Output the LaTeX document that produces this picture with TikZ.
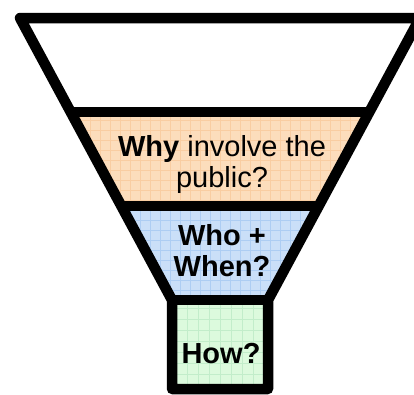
\documentclass[tikz,border=0pt]{standalone}
\usepackage{fontspec}
\setmainfont{Liberation Sans}
\usetikzlibrary{positioning}

\definecolor{whyfill}{HTML}{FCDDBC}
\definecolor{whygrid}{HTML}{F9CDA2}
\definecolor{whofill}{HTML}{CADFF8}
\definecolor{whogrid}{HTML}{ADCDF3}
\definecolor{howfill}{HTML}{DCFADD}
\definecolor{howgrid}{HTML}{C2EDCA}

\begin{document}
\begin{tikzpicture}[x=1pt, y=-1pt,
    outline/.style={draw=black, line width=10.5pt, line join=round},
    texture/.style={line width=0.6pt, step=10pt},
    label/.style={font=\fontsize{29}{31}\selectfont, align=center, inner sep=0pt}]
            \clip (0,0) rectangle (414,394);
            \fill[white] (0,0) rectangle (414,394);

            % bands
            \fill[whyfill] (70.7,112) -- (369.3,112) -- (319,206) -- (121,206) -- cycle;
            \fill[whofill] (121,206) -- (319,206) -- (268,300) -- (172,300) -- cycle;
            \fill[howfill] (172,300) rectangle (268,389);
            \begin{scope}
                \clip (70.7,112) -- (369.3,112) -- (319,206) -- (121,206) -- cycle;
                \draw[whygrid, texture] (60,100) grid (380,210);
            \end{scope}
            \begin{scope}
                \clip (121,206) -- (319,206) -- (268,300) -- (172,300) -- cycle;
                \draw[whogrid, texture] (110,200) grid (330,310);
            \end{scope}
            \begin{scope}
                \clip (172,300) rectangle (268,389);
                \draw[howgrid, texture, step=11pt] (165,295) grid (275,395);
            \end{scope}

            % funnel outline
            \draw[outline] (20,18) -- (420,18) -- (268,300) -- (268,389)
                -- (172,389) -- (172,300) -- cycle;
            \draw[outline] (70.7,112) -- (369.3,112);
            \draw[outline] (121,206) -- (319,206);
            \draw[outline] (172,300) -- (268,300);

            % labels
            \node[label] (why) at (222,164) {\textbf{Why} involve the\\public?};
            \node[label] (who) at (222,251) {\textbf{Who +}\\\textbf{When?}};
            \node[label] (how) at (221,354) {\textbf{How?}};
        \end{tikzpicture}
\end{document}
